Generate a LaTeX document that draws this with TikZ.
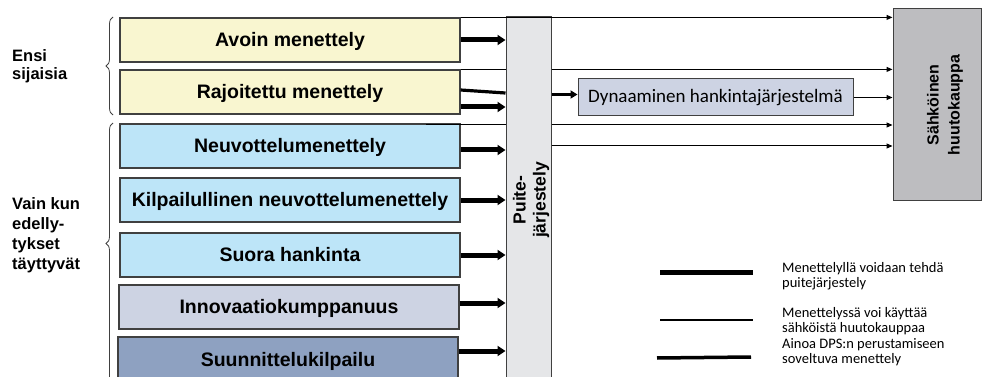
\documentclass[tikz,border=0pt]{standalone}
\usepackage{fontspec}
\setmainfont{Liberation Sans}
\newfontfamily\calib{Carlito}
\usetikzlibrary{arrows.meta,decorations.pathreplacing}
\definecolor{ensicol}{HTML}{F9F6D0}
\definecolor{neuvcol}{HTML}{BDE5F8}
\definecolor{innocol}{HTML}{CDD3E3}
\definecolor{suuncol}{HTML}{8EA1C1}
\definecolor{puitecol}{HTML}{E5E6E8}
\definecolor{sahkocol}{HTML}{BDBDC0}
\definecolor{rajacol}{HTML}{404040}
\begin{document}
\begin{tikzpicture}[x=1pt,y=-1pt,
	menbox/.style={draw=rajacol,line width=1.2pt,minimum width=340pt,minimum height=44pt,inner sep=0pt,font=\bfseries\fontsize{19.5}{22}\selectfont,text height=13pt,text depth=0pt},
	paksu/.style={line width=5pt,-{Triangle[length=8pt,width=10pt]}},
	ohut/.style={line width=1pt,-{Triangle[length=6pt,width=5pt]}},
	keski/.style={line width=3.2pt},
	selite/.style={anchor=north west,inner sep=0pt,align=left,font=\calib\fontsize{14.5}{15.5}\selectfont},
	sulje/.style={draw=rajacol,line width=0.8pt,decorate,decoration={brace,amplitude=7pt,aspect=#1}}]
		\useasboundingbox (0,0) rectangle (983,377);
		\foreach \n/\x/\y/\c/\t in {avoin/290/40/ensicol/Avoin menettely, rajoit/290/92/ensicol/Rajoitettu menettely, neuvot/290/146/neuvcol/Neuvottelumenettely, kilpail/290/200/neuvcol/Kilpailullinen neuvottelumenettely, suora/290/255/neuvcol/Suora hankinta, innov/289/307/innocol/Innovaatiokumppanuus}{
			\node [menbox,fill=\c] (\n) at (\x,\y) {\t};
			}
		\node [menbox,fill=suuncol,minimum height=46pt] (suunn) at (288,360) {Suunnittelukilpailu};
		\node [draw=rajacol,line width=1pt,fill=puitecol,minimum width=45pt,minimum height=380pt,inner sep=0pt] (puite) at (528.5,207) {};
		\node [rotate=90,align=center,font=\bfseries\fontsize{17.5}{20}\selectfont] (puiteteksti) at (531,200) {Puite-\\järjestely};
		\node [draw=rajacol,line width=1pt,fill=sahkocol,minimum width=88pt,minimum height=191pt,inner sep=0pt] (sahko) at (937,104.5) {};
		\node [rotate=90,align=center,font=\bfseries\fontsize{16}{21}\selectfont] (sahkoteksti) at (945,105) {Sähköinen\\huutokauppa};
		\node [draw=rajacol,line width=1pt,fill=innocol,minimum width=275pt,minimum height=37pt,inner sep=0pt,font=\calib\fontsize{19}{22}\selectfont] (dps) at (715.5,97.5) {Dynaaminen hankintajärjestelmä};
		\foreach \n/\s in {avoin/0, rajoit/-15, neuvot/-4, kilpail/0, suora/0, innov/4, suunn/9}
			\draw [paksu] ([yshift=\s]\n.east) -- ([yshift=\s]\n.east -| puite.west);
		\draw [keski] ([yshift=2]rajoit.east) -- ([yshift=-1]rajoit.east -| puite.west);
		\draw [ohut] (avoin.north east) -- (avoin.north east -| sahko.west);
		\draw [line width=1pt] (rajoit.north east) -- (rajoit.north east -| puite.west);
		\draw [ohut] (rajoit.north east -| puite.east) -- (rajoit.north east -| sahko.west);
		\coordinate (neuvalku) at (426,125);
		\draw [line width=1pt] (neuvalku) -- (neuvalku -| puite.west);
		\draw [ohut] (neuvalku -| puite.east) -- (neuvalku -| sahko.west);
		\draw [ohut] (neuvot.east -| puite.east) -- (neuvot.east -| sahko.west);
		\draw [keski,-{Triangle[length=7pt,width=8pt]}] ([yshift=3]dps.west -| puite.east) -- ([yshift=3]dps.west);
		\draw [ohut] (dps.east) -- (dps.east -| sahko.west);
		\draw [sulje=0.5] (113,115) -- (113,17);
		\draw [sulje=0.54] (113,385) -- (113,123);
		\node [anchor=north west,inner sep=0pt,align=left,font=\bfseries\fontsize{16.5}{18}\selectfont] (ensi) at (12,49) {Ensi\\sijaisia};
		\node [anchor=north west,inner sep=0pt,align=left,font=\bfseries\fontsize{16.5}{20}\selectfont] (vainkun) at (12,197) {Vain kun\\edelly-\\tykset\\täyttyvät};
		\draw [line width=5pt] (660,272) -- (753,272);
		\draw [line width=1.2pt] (660,320) -- (753,320);
		\draw [line width=3.5pt] (657,358) -- (751,357);
		\node [selite] (selite1) at (782,262) {Menettelyllä voidaan tehdä\\puitejärjestely};
		\node [selite] (selite2) at (782,307) {Menettelyssä voi käyttää\\sähköistä huutokauppaa};
		\node [selite] (selite3) at (782,338) {Ainoa DPS:n perustamiseen\\soveltuva menettely};
	\end{tikzpicture}
\end{document}
